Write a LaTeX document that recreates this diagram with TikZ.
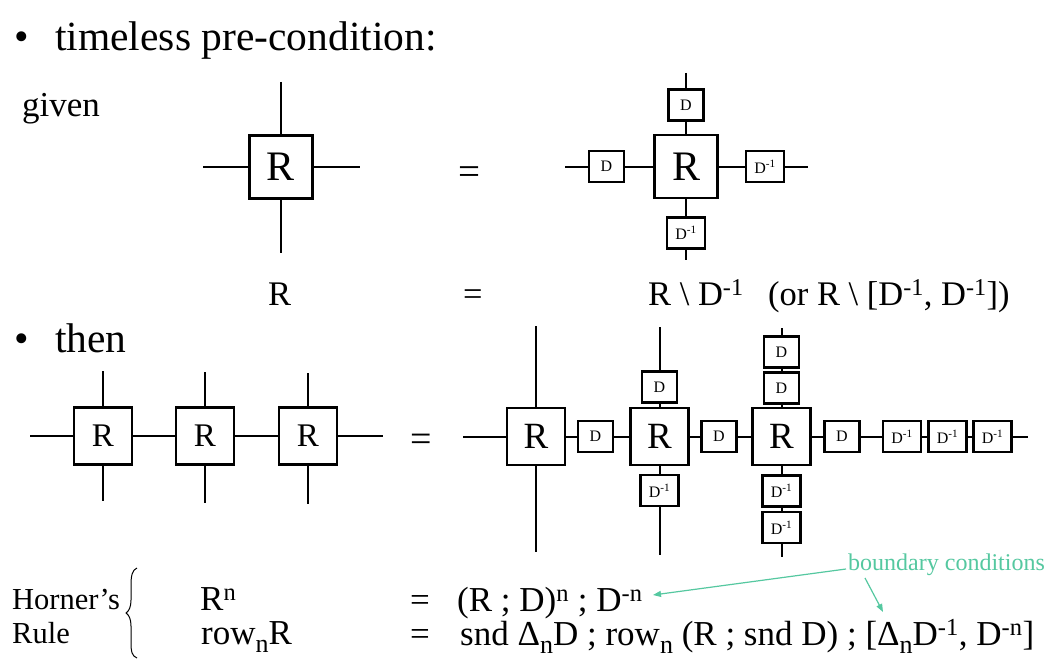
\documentclass[tikz,border=0pt]{standalone}
\usepackage{fontspec}
\setmainfont{Liberation Serif}
\usetikzlibrary{arrows.meta}
\definecolor{bcgreen}{RGB}{85,200,160}
\newcommand{\fsz}[1]{\fontsize{#1}{#1}\selectfont}
\newcommand{\lowsub}[1]{\raisebox{-8pt}{\fsz{26}#1}}
\begin{document}
\begin{tikzpicture}[x=1pt,y=-1pt,
  wire/.style={line width=2pt},
  boxbase/.style={draw,line width=2.4pt,fill=white,inner sep=0pt},
  rtop/.style={boxbase,minimum width=63pt,minimum height=63pt,font=\fsz{42}},
  rrow/.style={boxbase,minimum width=58pt,minimum height=57pt,font=\fsz{33}},
  rbig/.style={boxbase,minimum width=58pt,minimum height=57pt,font=\fsz{37}},
  dbox/.style={boxbase,minimum width=35pt,minimum height=31pt,font=\fsz{16}},
  dinv/.style={boxbase,minimum width=38pt,minimum height=31pt,font=\fsz{16}},
  txt/.style={inner sep=0pt,anchor=base west},
  bc/.style={bcgreen,line width=1.2pt,-{Triangle[length=8pt,width=6pt]}}
]
\useasboundingbox (0,0) rectangle (1052,666);
\fill[white] (0,0) rectangle (1052,666);

% ---------- titles ----------
\node[txt,font=\fsz{41.5}] (b1) at (14,51) {•};
\node[txt,font=\fsz{41.5}] (t1) at (55,51) {timeless pre-condition:};
\node[txt,font=\fsz{35}] (given) at (22,117) {given};
\node[txt,font=\fsz{41.5}] (b2) at (14,352) {•};
\node[txt,font=\fsz{41.5}] (t2) at (55,352) {then};

% ---------- top left ----------
\node[rtop] (tlR) at (281,167) {R};
\coordinate (tlT) at (281,82);
\coordinate (tlB) at (281,253);
\coordinate (tlL) at (203,167);
\coordinate (tlRt) at (360,167);
\draw[wire] (tlT) -- (tlR);
\draw[wire] (tlR) -- (tlB);
\draw[wire] (tlL) -- (tlR);
\draw[wire] (tlR) -- (tlRt);
\node[txt,font=\fsz{39}] (eqA) at (458,184) {=};

% ---------- top right ----------
\node[rtop] (trR) at (686,166.5) {R};
\node[dbox] (trDt) at (686,105) {D};
\node[dinv] (trDb) at (686,233) {D\textsuperscript{-1}};
\node[dbox] (trDl) at (606.5,166.5) {D};
\node[dinv] (trDr) at (765,166.5) {D\textsuperscript{-1}};
\coordinate (trT) at (686,73);
\coordinate (trB) at (686,260);
\coordinate (trL) at (565,166.5);
\coordinate (trRt) at (808,166.5);
\draw[wire] (trT) -- (trDt) -- (trR) -- (trDb) -- (trB);
\draw[wire] (trL) -- (trDl) -- (trR) -- (trDr) -- (trRt);

% ---------- middle row ----------
\node[txt,font=\fsz{34.5}] (mR) at (268,305) {R};
\node[txt,font=\fsz{34.5}] (mEq) at (463,305) {=};
\node[txt,font=\fsz{34.5}] (mRD) at (648,305) {R \textbackslash{} D\textsuperscript{-1}};
\node[txt,font=\fsz{34.5}] (mOr) at (768,305) {(or R \textbackslash{} [D\textsuperscript{-1}, D\textsuperscript{-1}])};

% ---------- bottom left row ----------
\node[rrow] (lR1) at (103,436) {R};
\node[rrow] (lR2) at (205,436) {R};
\node[rrow] (lR3) at (308,436) {R};
\coordinate (lL) at (30,436);
\coordinate (lRt) at (383,436);
\draw[wire] (lL) -- (lR1) -- (lR2) -- (lR3) -- (lRt);
\coordinate (lT1) at (103,371);
\coordinate (lB1) at (103,501);
\coordinate (lT2) at (205,372);
\coordinate (lB2) at (205,503);
\coordinate (lT3) at (308,373);
\coordinate (lB3) at (308,504);
\draw[wire] (lT1) -- (lR1) -- (lB1);
\draw[wire] (lT2) -- (lR2) -- (lB2);
\draw[wire] (lT3) -- (lR3) -- (lB3);
\node[txt,font=\fsz{38}] (eqB) at (410,451) {=};

% ---------- bottom right ----------
\node[rbig] (bR1) at (536,436.5) {R};
\node[dbox] (bD1) at (595.5,436.5) {D};
\node[rbig] (bR2) at (659.5,436.5) {R};
\node[dbox] (bD2) at (719,436.5) {D};
\node[rbig] (bR3) at (781.5,436.5) {R};
\node[dbox] (bD3) at (842,436.5) {D};
\node[dinv] (bI1) at (902,436.5) {D\textsuperscript{-1}};
\node[dinv] (bI2) at (947.5,436.5) {D\textsuperscript{-1}};
\node[dinv] (bI3) at (992.5,436.5) {D\textsuperscript{-1}};
\coordinate (bL) at (463,436.5);
\coordinate (bRt) at (1028,436.5);
\draw[wire] (bL) -- (bR1) -- (bD1) -- (bR2) -- (bD2) -- (bR3) -- (bD3) -- (bI1) -- (bI2) -- (bI3) -- (bRt);
% column 1
\coordinate (c1T) at (536,326);
\coordinate (c1B) at (536,552);
\draw[wire] (c1T) -- (bR1) -- (c1B);
% column 2
\node[dbox] (c2D) at (659.5,387) {D};
\node[dinv] (c2I) at (659.5,490.5) {D\textsuperscript{-1}};
\coordinate (c2T) at (659.5,327);
\coordinate (c2B) at (659.5,555);
\draw[wire] (c2T) -- (c2D) -- (bR2) -- (c2I) -- (c2B);
% column 3
\node[dbox] (c3Da) at (781.5,352) {D};
\node[dbox] (c3Db) at (781.5,388) {D};
\node[dinv] (c3Ia) at (781.5,491) {D\textsuperscript{-1}};
\node[dinv] (c3Ib) at (781.5,527.5) {D\textsuperscript{-1}};
\coordinate (c3T) at (781.5,328);
\coordinate (c3B) at (781.5,557);
\draw[wire] (c3T) -- (c3Da) -- (c3Db) -- (bR3) -- (c3Ia) -- (c3Ib) -- (c3B);

% ---------- Horner's rule ----------
\node[txt,font=\fsz{30.5}] (hor) at (12,609) {Horner’s};
\node[txt,font=\fsz{30.5}] (rule) at (12,643) {Rule};
\draw[line width=1pt] (137,568) .. controls (132,570) and (131,576) .. (131,586)
  -- (131,600) .. controls (131,607) and (129,611) .. (126,613)
  .. controls (129,615) and (131,619) .. (131,626)
  -- (131,642) .. controls (131,652) and (132,656) .. (137,658);
\node[txt,font=\fsz{35}] (rn) at (200,610) {R\textsuperscript{n}};
\node[txt,font=\fsz{35}] (rown) at (201,644) {row\lowsub{n}R};
\node[txt,font=\fsz{35}] (eq1) at (410,611) {=};
\node[txt,font=\fsz{35}] (eq2) at (410,645) {=};
\node[txt,font=\fsz{35}] (e1) at (457,611) {(R ; D)\textsuperscript{n} ; D\textsuperscript{-n}};
\node[txt,font=\fsz{35}] (e2) at (460,645) {snd Δ\lowsub{n}D ; row\lowsub{n} (R ; snd D) ; [Δ\lowsub{n}D\textsuperscript{-1}, D\textsuperscript{-n}]};

% ---------- boundary conditions ----------
\node[txt,font=\fsz{24},text=bcgreen] (bcnd) at (848,570) {boundary conditions};
\coordinate (a1s) at (846,569);
\coordinate (a1e) at (653,595);
\coordinate (a2s) at (865,578);
\coordinate (a2e) at (883,612);
\draw[bc] (a1s) -- (a1e);
\draw[bc] (a2s) -- (a2e);
\end{tikzpicture}
\end{document}
